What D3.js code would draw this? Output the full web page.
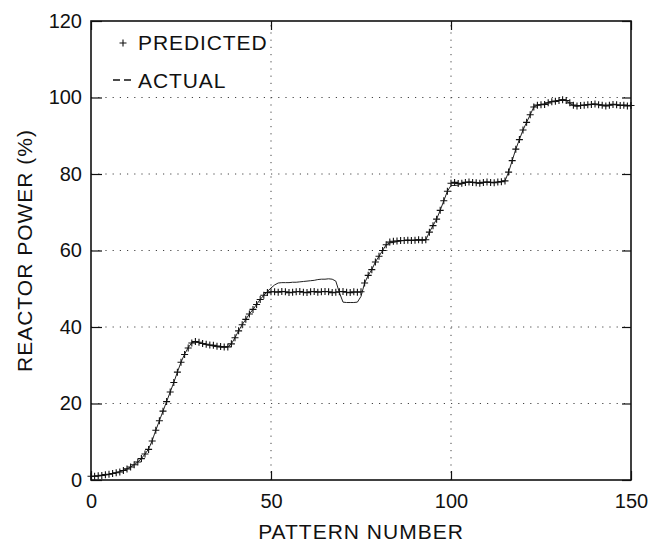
<!DOCTYPE html>
<html>
<head>
<meta charset="utf-8">
<script src="https://cdn.jsdelivr.net/npm/d3@7"></script>
<style>
  body { margin: 0; background: #fff; }
  svg text { font-family: "Liberation Sans", Arial, Helvetica, sans-serif; fill: #111; }
</style>
</head>
<body>
<div id="chart"></div>
<script>
// reactor power per pattern number, index = pattern number (0..150)
const predicted = [
  1.0, 1.0, 1.1, 1.2, 1.4, 1.5, 1.7, 1.9, 2.1, 2.5,
  2.9, 3.4, 4.0, 4.7, 5.6, 6.8, 8.0, 10.2, 13.0, 15.5,
  18.0, 20.5, 23.0, 25.5, 28.2, 30.8, 32.8, 34.5, 35.8, 36.2,
  36.0, 35.7, 35.5, 35.3, 35.2, 35.0, 34.9, 34.8, 34.8, 35.6,
  37.2, 39.0, 40.6, 42.0, 43.4, 44.6, 45.9, 47.2, 48.3, 49.0,
  49.2, 49.2, 49.1, 49.3, 49.2, 49.0, 49.1, 49.2, 49.3, 49.1,
  49.0, 49.2, 49.3, 49.1, 49.2, 49.3, 49.2, 49.0, 49.1, 49.2,
  49.3, 49.1, 49.0, 49.2, 49.1, 49.2, 51.5, 53.5, 55.0, 57.0,
  58.5, 60.0, 61.5, 62.2, 62.4, 62.5, 62.6, 62.6, 62.7, 62.6,
  62.7, 62.8, 62.7, 62.8, 64.8, 66.5, 68.2, 70.5, 73.0, 75.5,
  77.6, 77.8, 77.5, 77.6, 77.8, 77.9, 77.8, 77.7, 77.6, 77.8,
  77.9, 77.8, 77.7, 77.9, 78.0, 78.2, 80.5, 83.5, 86.5, 89.0,
  91.5, 93.5, 95.5, 97.5, 98.0, 98.1, 98.2, 98.6, 98.9, 99.0,
  99.2, 99.4, 99.2, 98.6, 98.0, 97.8, 97.9, 98.0, 98.1, 98.2,
  98.3, 98.1, 98.0, 97.8, 98.0, 98.2, 98.1, 97.9, 98.0, 97.8,
  97.9
];

const actual = [
  0.9, 1.0, 1.0, 1.2, 1.3, 1.5, 1.7, 1.9, 2.2, 2.5,
  2.9, 3.4, 4.0, 4.7, 5.6, 6.8, 8.1, 10.3, 13.0, 15.5,
  18.0, 20.5, 23.0, 25.5, 28.2, 30.8, 32.9, 34.6, 35.9, 36.1,
  35.9, 35.6, 35.4, 35.2, 35.0, 34.8, 34.7, 34.7, 34.8, 35.6,
  37.2, 39.0, 40.6, 42.0, 43.4, 44.6, 45.9, 47.2, 48.3, 49.3,
  50.2, 51.0, 51.5, 51.6, 51.6, 51.6, 51.7, 51.7, 51.8, 51.9,
  52.0, 52.1, 52.2, 52.4, 52.5, 52.5, 52.6, 52.5, 52.0, 49.0,
  46.5, 46.4, 46.4, 46.4, 46.5, 48.0, 51.5, 53.5, 55.0, 57.0,
  58.5, 60.0, 61.5, 62.0, 62.1, 62.3, 62.5, 62.6, 62.7, 62.6,
  62.7, 62.8, 62.7, 62.8, 64.8, 66.5, 68.2, 70.5, 73.0, 75.5,
  77.0, 77.0, 77.1, 77.4, 77.7, 77.9, 77.8, 77.7, 77.6, 77.8,
  77.9, 77.8, 77.7, 77.9, 78.0, 78.2, 80.5, 83.5, 86.5, 89.0,
  91.5, 93.5, 95.5, 97.5, 98.0, 98.2, 98.3, 98.7, 99.0, 99.1,
  99.3, 99.5, 99.3, 98.5, 97.9, 97.7, 97.9, 98.0, 98.1, 98.2,
  98.3, 98.1, 98.0, 97.8, 98.0, 98.2, 98.1, 97.9, 98.0, 97.9,
  98.0
];

const xTicks = [0, 50, 100, 150];
const yTicks = [0, 20, 40, 60, 80, 100, 120];
const legendLabels = ["PREDICTED", "ACTUAL"];

const width = 662, height = 544;
const margin = {top: 21, right: 31, bottom: 64, left: 91};

const svg = d3.select("#chart").append("svg")
  .attr("width", width)
  .attr("height", height);

const x = d3.scaleLinear().domain([0, 150]).range([margin.left, width - margin.right]);
const y = d3.scaleLinear().domain([0, 120]).range([height - margin.bottom, margin.top]);

// dotted grid, only inside lines
const grid = svg.append("g")
  .attr("stroke", "#444")
  .attr("stroke-width", 1)
  .attr("stroke-dasharray", "1.2,6");

grid.selectAll(".gx")
  .data(xTicks.slice(1, -1))
  .enter().append("line")
  .attr("x1", d => x(d)).attr("x2", d => x(d))
  .attr("y1", y(0)).attr("y2", y(120));

grid.selectAll(".gy")
  .data(yTicks.slice(1, -1))
  .enter().append("line")
  .attr("x1", x(0)).attr("x2", x(150))
  .attr("y1", d => y(d)).attr("y2", d => y(d));

// axes: inward ticks on all four sides
svg.append("g")
  .attr("transform", `translate(0,${y(0)})`)
  .call(d3.axisBottom(x).tickValues(xTicks).tickSize(-9).tickPadding(14).tickSizeOuter(0))
  .call(g => g.select(".domain").remove())
  .call(g => g.selectAll("text").attr("font-size", "20px").attr("dy", "0.71em"));

svg.append("g")
  .attr("transform", `translate(0,${y(120)})`)
  .call(d3.axisTop(x).tickValues(xTicks).tickSize(-9).tickFormat("").tickSizeOuter(0))
  .call(g => g.select(".domain").remove());

svg.append("g")
  .attr("transform", `translate(${x(0)},0)`)
  .call(d3.axisLeft(y).tickValues(yTicks).tickSize(-11).tickPadding(9).tickSizeOuter(0))
  .call(g => g.select(".domain").remove())
  .call(g => g.selectAll("text").attr("font-size", "20px"));

svg.append("g")
  .attr("transform", `translate(${x(150)},0)`)
  .call(d3.axisRight(y).tickValues(yTicks).tickSize(-9).tickFormat("").tickSizeOuter(0))
  .call(g => g.select(".domain").remove());

svg.selectAll(".tick line").attr("stroke", "#111").attr("stroke-width", 1.2);

// frame
svg.append("rect")
  .attr("x", x(0)).attr("y", y(120))
  .attr("width", x(150) - x(0))
  .attr("height", y(0) - y(120))
  .attr("fill", "none")
  .attr("stroke", "#111")
  .attr("stroke-width", 1.6);

// actual: thin line
const line = d3.line()
  .x((d, i) => x(i))
  .y(d => y(d));

svg.append("path")
  .datum(actual)
  .attr("fill", "none")
  .attr("stroke", "#222")
  .attr("stroke-width", 1)
  .attr("d", line);

// predicted: + markers
const cross = (cx, cy, r) => `M${cx - r},${cy}h${2 * r}M${cx},${cy - r}v${2 * r}`;

svg.append("g")
  .selectAll("path")
  .data(predicted)
  .enter().append("path")
  .attr("fill", "none")
  .attr("stroke", "#111")
  .attr("stroke-width", 1.1)
  .attr("d", (d, i) => cross(x(i), y(d), 3.5));

// legend
const legend = svg.append("g");
legend.append("path")
  .attr("d", cross(123, 43, 3.5))
  .attr("stroke", "#111").attr("stroke-width", 1.1);
legend.append("line")
  .attr("x1", 113).attr("x2", 132)
  .attr("y1", 80).attr("y2", 80)
  .attr("stroke", "#111").attr("stroke-width", 1.3)
  .attr("stroke-dasharray", "7,4");
legend.selectAll("text")
  .data(legendLabels)
  .enter().append("text")
  .attr("x", 138)
  .attr("y", (d, i) => 50 + i * 38)
  .attr("font-size", "21px")
  .attr("letter-spacing", "0.9px")
  .text(d => d);

// axis titles
svg.append("text")
  .attr("x", (x(0) + x(150)) / 2)
  .attr("y", 539)
  .attr("text-anchor", "middle")
  .attr("font-size", "21px")
  .attr("letter-spacing", "1px")
  .text("PATTERN NUMBER");

svg.append("text")
  .attr("transform", `translate(32,${(y(0) + y(120)) / 2}) rotate(-90)`)
  .attr("text-anchor", "middle")
  .attr("font-size", "21px")
  .attr("letter-spacing", "1px")
  .text("REACTOR POWER (%)");
</script>
</body>
</html>
